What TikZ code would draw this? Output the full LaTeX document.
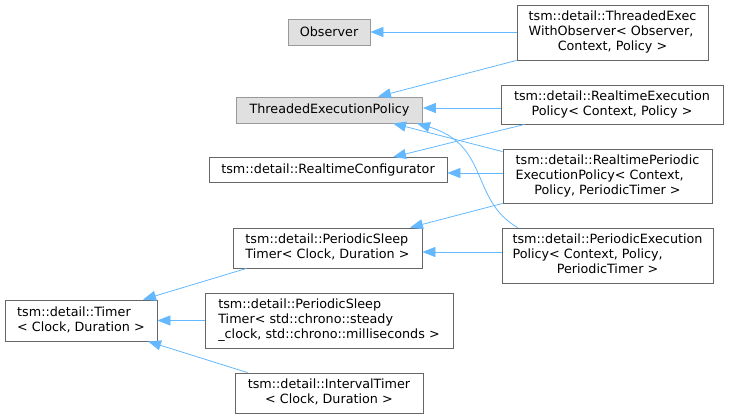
\documentclass[tikz,border=0pt]{standalone}
\usepackage{fontspec}
\setmainfont{DejaVu Sans}
\usetikzlibrary{arrows.meta,calc}
\definecolor{edgeblue}{HTML}{63B8FF}
\definecolor{boxborder}{HTML}{666666}
\definecolor{undocborder}{HTML}{999999}
\definecolor{undocfill}{HTML}{E0E0E0}
\newcommand\lft[1]{\begin{tabular}{@{}l@{}}#1\end{tabular}}
\newcommand\ctr[1]{\begin{tabular}{@{}c@{}}#1\end{tabular}}
\newcommand\lastc[1]{\multicolumn{1}{@{}c@{}}{#1}}
\begin{document}
\begin{tikzpicture}[x=1pt,y=-1pt,
  cls/.style={draw=boxborder, fill=white, line width=0.8pt, inner sep=0pt,
    font=\fontsize{12.75}{15}\selectfont},
  undoc/.style={cls, draw=undocborder, fill=undocfill},
  edge/.style={draw=edgeblue, line width=0.8pt, -{Triangle[length=13pt,width=10pt]}}]
\useasboundingbox (0,0) rectangle (729,418);

\node[undoc, minimum width=82pt, minimum height=26pt] (obs) at (329,32) {Observer};
\node[cls, minimum width=191pt, minimum height=55pt] (te) at (612.5,32.5)
  {\lft{tsm::detail::ThreadedExec\\WithObserver< Observer,\\\lastc{Context, Policy >}}};
\node[undoc, minimum width=186pt, minimum height=26pt] (tep) at (329.5,110) {ThreadedExecutionPolicy};
\node[cls, minimum width=222pt, minimum height=39pt] (re) at (612,104.5)
  {\ctr{tsm::detail::RealtimeExecution\\Policy< Context, Policy >}};
\node[cls, minimum width=238pt, minimum height=25pt] (rc) at (328,170) {tsm::detail::RealtimeConfigurator};
\node[cls, minimum width=209pt, minimum height=54pt] (rp) at (607.5,176)
  {\lft{tsm::detail::RealtimePeriodic\\ExecutionPolicy< Context,\\\lastc{Policy, PeriodicTimer >}}};
\node[cls, minimum width=189pt, minimum height=40pt] (pst) at (327.5,248)
  {\lft{tsm::detail::PeriodicSleep\\Timer< Clock, Duration >}};
\node[cls, minimum width=211pt, minimum height=55pt] (pe) at (607.5,255.5)
  {\lft{tsm::detail::PeriodicExecution\\Policy< Context, Policy,\\\lastc{PeriodicTimer >}}};
\node[cls, minimum width=152pt, minimum height=41pt] (timer) at (81,320.5)
  {\lft{tsm::detail::Timer\\< Clock, Duration >}};
\node[cls, minimum width=248pt, minimum height=55pt] (pstd) at (329,320.5)
  {\lft{tsm::detail::PeriodicSleep\\Timer< std::chrono::steady\\\_clock, std::chrono::milliseconds >}};
\node[cls, minimum width=188pt, minimum height=40pt] (it) at (329,393)
  {\ctr{tsm::detail::IntervalTimer\\< Clock, Duration >}};

\draw[edge] (te.west |- obs.east) -- (obs.east);
\draw[edge] (te.south west) -- ($(tep.north)+(48.5,0)$);
\draw[edge] ($(re.west)+(0,3.5)$) -- ($(tep.east)+(0,-2)$);
\draw[edge] ($(re.south west)+(24,0)$) -- ($(rc.north)+(65,0)$);
\draw[edge] ($(rp.north west)+(0,3)$) -- ($(tep.south)+(63.5,0)$);
\draw[edge] ($(rp.west)+(0,-3)$) -- ($(rc.east)+(0,3)$);
\draw[edge] ($(pe.north west)+(16,0)$) .. controls (470,200) and (490,145) .. ($(tep.south)+(87.5,0)$);
\draw[edge] (rp.south west) -- ($(pst.north)+(82.5,0)$);
\draw[edge] ($(pe.west)+(0,-3.5)$) -- ($(pst.east)+(0,4)$);
\draw[edge] ($(pst.south west)+(14,0)$) -- ($(timer.north)+(62,0)$);
\draw[edge] (pstd.west) -- (timer.east);
\draw[edge] ($(it.north west)+(13,0)$) -- ($(timer.south)+(67,0)$);
\end{tikzpicture}
\end{document}
